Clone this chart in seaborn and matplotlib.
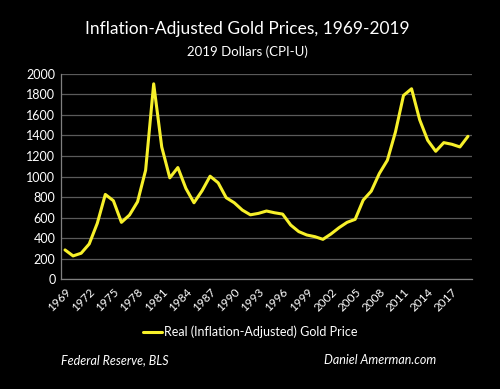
import numpy as np
import pandas as pd
import matplotlib
matplotlib.use("Agg")
import matplotlib.pyplot as plt
import seaborn as sns

# real gold price, 2019 dollars
years = list(range(1969, 2020))
prices = [287, 229, 255, 345, 545, 826, 765, 555, 626, 755,
          1061, 1900, 1287, 987, 1087, 884, 745, 861, 1003, 939,
          794, 745, 674, 628, 642, 665, 648, 635, 529, 465,
          432, 416, 390, 442, 503, 555, 584, 771, 858, 1029,
          1158, 1432, 1787, 1852, 1552, 1352, 1245, 1329, 1313, 1287,
          1390]
tick_years = list(range(1969, 2019, 3))
series_name = "Real (Inflation-Adjusted) Gold Price"

df = pd.DataFrame({"year": years, "price": prices, "series": series_name})

sns.set_style("dark", {"axes.facecolor": "black", "figure.facecolor": "black"})
plt.rcParams["font.family"] = ["Lato", "DejaVu Sans"]

fig = plt.figure(figsize=(5, 3.89), dpi=100)
ax = fig.add_axes([0.122, 0.2815, 0.822, 0.5295])
fig.patch.set_facecolor("black")
ax.set_facecolor("black")

sns.lineplot(data=df, x="year", y="price", hue="series", palette=["#F7F02A"],
             linewidth=2.2, ax=ax)

# axes
ax.set_xlim(1968.5, 2019.5)
ax.set_ylim(0, 2000)
ax.set_yticks(range(0, 2001, 200))
ax.set_xticks(tick_years)
ax.set_xticklabels([str(y) for y in tick_years], rotation=45, ha="right",
                   rotation_mode="anchor", color="white", fontsize=8.5)
ax.set_xticks(np.arange(1968.5, 2020, 1), minor=True)
ax.tick_params(axis="x", which="major", length=0, pad=5)
ax.tick_params(axis="x", which="minor", length=3, color="#808080", direction="out")
ax.tick_params(axis="y", length=0, labelcolor="white", labelsize=9, pad=4)
ax.set_xlabel("")
ax.set_ylabel("")

ax.grid(axis="y", color="#5a5a5a", linewidth=0.9)
ax.grid(axis="x", visible=False)
for s in ["top", "right"]:
    ax.spines[s].set_visible(False)
for s in ["left", "bottom"]:
    ax.spines[s].set_visible(True)
    ax.spines[s].set_color("#808080")
    ax.spines[s].set_linewidth(0.9)

# legend under the plot
ax.get_legend().remove()
handles, labels = ax.get_legend_handles_labels()
fig.legend(handles, labels, loc="center", bbox_to_anchor=(0.5, 0.146), frameon=False,
           labelcolor="white", fontsize=9, handlelength=1.5, handletextpad=0.15)

# titles and footers
fig.text(0.494, 0.925, "Inflation-Adjusted Gold Prices, 1969-2019", ha="center",
         va="center", color="white", fontsize=12.5)
fig.text(0.494, 0.866, "2019 Dollars (CPI-U)", ha="center", va="center",
         color="white", fontsize=9.5)
fig.text(0.122, 0.075, "Federal Reserve, BLS", ha="left", va="center",
         color="white", fontsize=9, style="italic")
fig.text(0.872, 0.075, "Daniel Amerman.com", ha="right", va="center",
         color="white", fontsize=9, style="italic")

fig.savefig("out.png", dpi=100, facecolor="black")
